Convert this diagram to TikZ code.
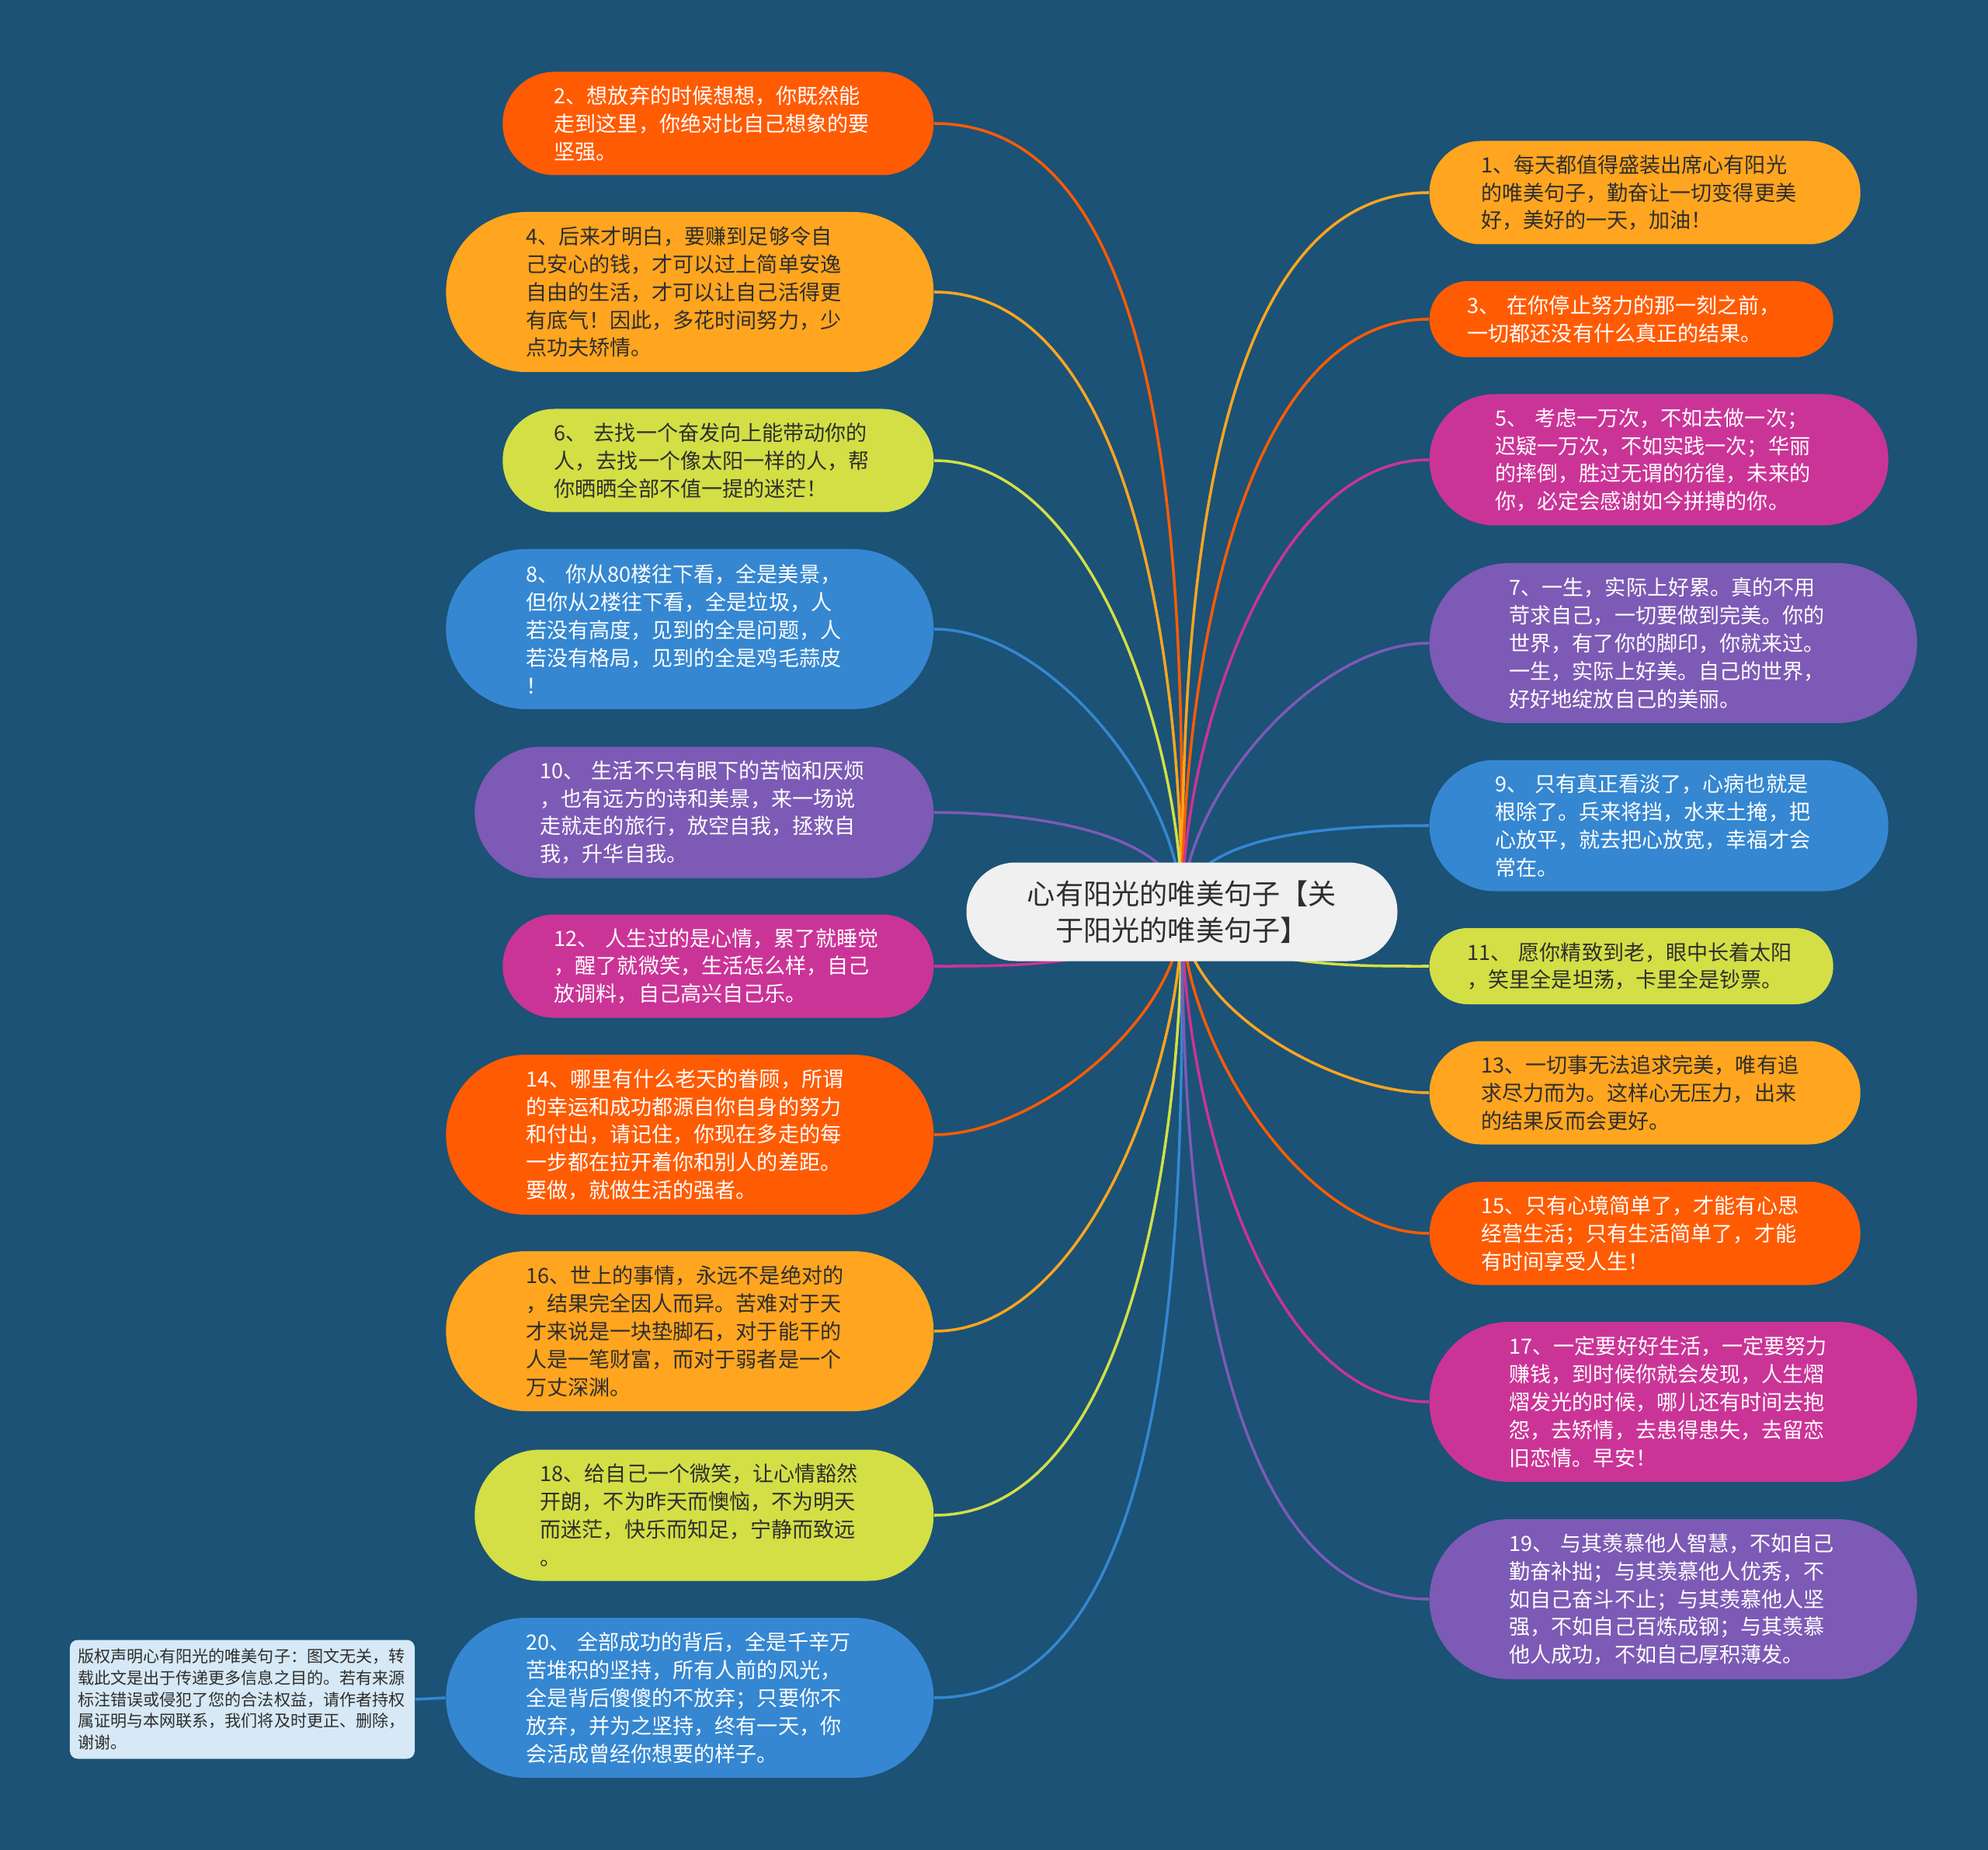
\documentclass[tikz,border=0pt]{standalone}
\usepackage{fontspec}
\setmainfont{Noto Sans CJK SC}
\usetikzlibrary{shapes.misc,backgrounds}

\definecolor{bgblue}{HTML}{1B5276}
\definecolor{cOrgRed}{HTML}{FF5B03}
\definecolor{cOrange}{HTML}{FFA51F}
\definecolor{cLime}{HTML}{D3DF45}
\definecolor{cBlue}{HTML}{3587D1}
\definecolor{cPurple}{HTML}{7D5AB5}
\definecolor{cMagenta}{HTML}{CB3497}
\definecolor{rootgray}{HTML}{F0F0F0}
\definecolor{notefill}{HTML}{D7E9F6}
\definecolor{darktext}{HTML}{2E2E2E}

\newcommand{\leaffont}{\fontsize{7.7pt}{10.2pt}\selectfont}
\newcommand{\rootfont}{\fontsize{10.3pt}{13.4pt}\selectfont}
\newcommand{\notefont}{\fontsize{6pt}{7.9pt}\selectfont}

\tikzset{
  leaf/.style={rounded rectangle, inner xsep=0pt, inner ysep=0pt, text width=4.22cm, align=left, font=\leaffont},
  two/.style={minimum height=0.98cm, minimum width=5.20cm},
  three/.style={minimum height=1.33cm, minimum width=5.55cm},
  four/.style={minimum height=1.69cm, minimum width=5.91cm},
  five/.style={minimum height=2.06cm, minimum width=6.28cm},
  redbox/.style={fill=cOrgRed, text=white},
  orgbox/.style={fill=cOrange, text=darktext},
  limebox/.style={fill=cLime, text=darktext},
  bluebox/.style={fill=cBlue, text=white},
  purpbox/.style={fill=cPurple, text=white},
  magbox/.style={fill=cMagenta, text=white},
  link/.style={line width=1pt}
}

\begin{document}
\begin{tikzpicture}
  \begin{scope}[on background layer]
    \fill[bgblue] (0,0) rectangle (25.6,-23.82);
  \end{scope}

  \node[rounded rectangle, fill=rootgray, text=darktext, font=\rootfont, align=center,
        minimum width=5.55cm, minimum height=1.27cm, inner sep=0pt] (root) at (15.22,-11.74)
        {心有阳光的唯美句子【关\\于阳光的唯美句子】};

  % left side
  \node[leaf, three, redbox, anchor=east] (n2) at (12.03,-1.59)
    {2、想放弃的时候想想，你既然能\\走到这里，你绝对比自己想象的要\\坚强。};
  \node[leaf, five, orgbox, anchor=east] (n4) at (12.03,-3.76)
    {4、后来才明白，要赚到足够令自\\己安心的钱，才可以过上简单安逸\\自由的生活，才可以让自己活得更\\有底气！因此，多花时间努力，少\\点功夫矫情。};
  \node[leaf, three, limebox, anchor=east] (n6) at (12.03,-5.93)
    {6、 去找一个奋发向上能带动你的\\人，去找一个像太阳一样的人，帮\\你晒晒全部不值一提的迷茫！};
  \node[leaf, five, bluebox, anchor=east] (n8) at (12.03,-8.10)
    {8、 你从80楼往下看，全是美景，\\但你从2楼往下看，全是垃圾，人\\若没有高度，见到的全是问题，人\\若没有格局，见到的全是鸡毛蒜皮\\！};
  \node[leaf, four, purpbox, anchor=east] (n10) at (12.03,-10.46)
    {10、 生活不只有眼下的苦恼和厌烦\\，也有远方的诗和美景，来一场说\\走就走的旅行，放空自我，拯救自\\我，升华自我。};
  \node[leaf, three, magbox, anchor=east] (n12) at (12.03,-12.44)
    {12、 人生过的是心情，累了就睡觉\\，醒了就微笑，生活怎么样，自己\\放调料，自己高兴自己乐。};
  \node[leaf, five, redbox, anchor=east] (n14) at (12.03,-14.61)
    {14、哪里有什么老天的眷顾，所谓\\的幸运和成功都源自你自身的努力\\和付出，请记住，你现在多走的每\\一步都在拉开着你和别人的差距。\\要做，就做生活的强者。};
  \node[leaf, five, orgbox, anchor=east] (n16) at (12.03,-17.14)
    {16、世上的事情，永远不是绝对的\\，结果完全因人而异。苦难对于天\\才来说是一块垫脚石，对于能干的\\人是一笔财富，而对于弱者是一个\\万丈深渊。};
  \node[leaf, four, limebox, anchor=east] (n18) at (12.03,-19.51)
    {18、给自己一个微笑，让心情豁然\\开朗，不为昨天而懊恼，不为明天\\而迷茫，快乐而知足，宁静而致远\\。};
  \node[leaf, five, bluebox, anchor=east] (n20) at (12.03,-21.86)
    {20、 全部成功的背后，全是千辛万\\苦堆积的坚持，所有人前的风光，\\全是背后傻傻的不放弃；只要你不\\放弃，并为之坚持，终有一天，你\\会活成曾经你想要的样子。};

  % right side
  \node[leaf, three, orgbox, anchor=west] (n1) at (18.40,-2.48)
    {1、每天都值得盛装出席心有阳光\\的唯美句子，勤奋让一切变得更美\\好，美好的一天，加油！};
  \node[leaf, two, redbox, anchor=west] (n3) at (18.40,-4.11)
    {3、 在你停止努力的那一刻之前，\\一切都还没有什么真正的结果。};
  \node[leaf, four, magbox, anchor=west] (n5) at (18.40,-5.92)
    {5、 考虑一万次，不如去做一次；\\迟疑一万次，不如实践一次；华丽\\的摔倒，胜过无谓的彷徨，未来的\\你，必定会感谢如今拼搏的你。};
  \node[leaf, five, purpbox, anchor=west] (n7) at (18.40,-8.28)
    {7、一生，实际上好累。真的不用\\苛求自己，一切要做到完美。你的\\世界，有了你的脚印，你就来过。\\一生，实际上好美。自己的世界，\\好好地绽放自己的美丽。};
  \node[leaf, four, bluebox, anchor=west] (n9) at (18.40,-10.63)
    {9、 只有真正看淡了，心病也就是\\根除了。兵来将挡，水来土掩，把\\心放平，就去把心放宽，幸福才会\\常在。};
  \node[leaf, two, limebox, anchor=west] (n11) at (18.40,-12.44)
    {11、 愿你精致到老，眼中长着太阳\\，笑里全是坦荡，卡里全是钞票。};
  \node[leaf, three, orgbox, anchor=west] (n13) at (18.40,-14.07)
    {13、一切事无法追求完美，唯有追\\求尽力而为。这样心无压力，出来\\的结果反而会更好。};
  \node[leaf, three, redbox, anchor=west] (n15) at (18.40,-15.88)
    {15、只有心境简单了，才能有心思\\经营生活；只有生活简单了，才能\\有时间享受人生！};
  \node[leaf, five, magbox, anchor=west] (n17) at (18.40,-18.05)
    {17、一定要好好生活，一定要努力\\赚钱，到时候你就会发现，人生熠\\熠发光的时候，哪儿还有时间去抱\\怨，去矫情，去患得患失，去留恋\\旧恋情。早安！};
  \node[leaf, five, purpbox, anchor=west] (n19) at (18.40,-20.59)
    {19、 与其羡慕他人智慧，不如自己\\勤奋补拙；与其羡慕他人优秀，不\\如自己奋斗不止；与其羡慕他人坚\\强，不如自己百炼成钢；与其羡慕\\他人成功，不如自己厚积薄发。};

  \node[rectangle, rounded corners=0.1cm, fill=notefill, text=darktext, font=\notefont,
        text width=4.24cm, align=left, inner xsep=0.1cm, inner ysep=0.1cm,
        minimum height=1.53cm] (note) at (3.12,-21.88)
    {版权声明心有阳光的唯美句子：图文无关，转\\载此文是出于传递更多信息之目的。若有来源\\标注错误或侵犯了您的合法权益，请作者持权\\属证明与本网联系，我们将及时更正、删除，\\谢谢。};

  \begin{scope}[on background layer]
    \foreach \n/\c/\a in {n2/cOrgRed/90, n4/cOrange/90, n6/cLime/90, n8/cBlue/90, n10/cPurple/90,
                          n12/cMagenta/-135, n14/cOrgRed/-90, n16/cOrange/-90, n18/cLime/-90, n20/cBlue/-90}
      \draw[link, draw=\c] (root.center) to[out=\a, in=0, looseness=0.8] (\n.east);
    \foreach \n/\c/\a in {n1/cOrange/90, n3/cOrgRed/90, n5/cMagenta/90, n7/cPurple/90, n9/cBlue/90,
                          n11/cLime/-45, n13/cOrange/-90, n15/cOrgRed/-90, n17/cMagenta/-90, n19/cPurple/-90}
      \draw[link, draw=\c] (root.center) to[out=\a, in=180, looseness=0.8] (\n.west);
    \draw[link, draw=cBlue] (note.east) -- (n20.west);
  \end{scope}
\end{tikzpicture}
\end{document}
